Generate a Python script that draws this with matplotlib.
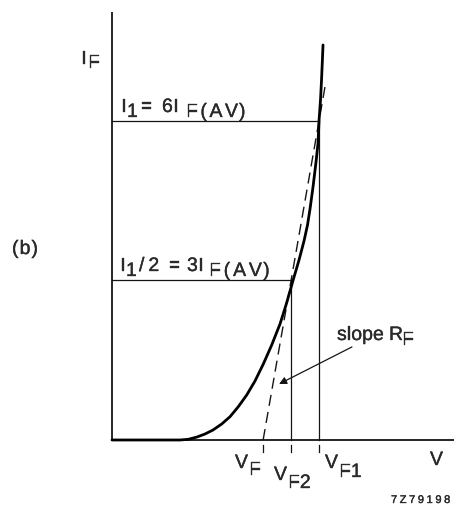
import matplotlib
matplotlib.use("Agg")
import matplotlib.pyplot as plt
from matplotlib.transforms import IdentityTransform
from matplotlib.font_manager import FontProperties
import matplotlib.patheffects as pe

# Forward characteristic of the diode (V in units of V_F1, I in units of I_F(AV))
v_curve = [0.0, 0.3285, 0.3686, 0.4106, 0.4493, 0.4879, 0.5300, 0.5700,
           0.6101, 0.6507, 0.6908, 0.7309, 0.7715, 0.8116, 0.8406, 0.8744,
           0.9034, 0.9275, 0.9444, 0.9565, 0.9710, 0.9855, 0.9952, 1.0,
           1.0072, 1.0121, 1.0159, 1.0193]
i_curve = [0.0, 0.0, 0.013, 0.056, 0.113, 0.188, 0.301, 0.438,
           0.626, 0.846, 1.110, 1.429, 1.787, 2.182, 2.539, 3.0,
           3.385, 3.743, 4.044, 4.345, 4.758, 5.229, 5.586, 6.0,
           6.395, 6.771, 7.109, 7.429]

# Operating points
i_1 = 6.0          # I1 = 6 I_F(AV)
i_half = 3.0       # I1/2 = 3 I_F(AV)
v_f2 = 0.865
v_f1 = 1.0
i_dash_top = 6.75  # upper end of the slope line

# Axis extents
v_axis_end = 1.652
i_axis_top = 8.05

W, H = 454, 505
fig = plt.figure(figsize=(W / 100, H / 100), dpi=100, facecolor="white")
ax = fig.add_axes([0, 0, 1, 1])
ax.set_xlim(-0.541, 1.652)
ax.set_ylim(-1.2225, 8.275)
ax.axis("off")

ink = "#151515"
txt = "#2a2a2a"

# Axes
ax.plot([0, 0], [0, i_axis_top], color=ink, lw=1.3, solid_capstyle="butt")
ax.plot([0, v_axis_end], [0, 0], color=ink, lw=1.3, solid_capstyle="butt")

# Construction lines
ax.plot([0, v_f1], [i_1, i_1], color=ink, lw=0.9)
ax.plot([0, v_f2], [i_half, i_half], color=ink, lw=0.9)
ax.plot([v_f1, v_f1], [0, i_1], color=ink, lw=0.9)
ax.plot([v_f2, v_f2], [0, i_half], color=ink, lw=0.9)

# Slope line through the two operating points, extended to the V axis
slope = (i_1 - i_half) / (v_f1 - v_f2)
v_f = v_f1 - i_1 / slope
v_top = v_f1 + (i_dash_top - i_1) / slope
ax.plot([v_f, v_top], [0, i_dash_top], color=ink, lw=1.0,
        dashes=(8, 4.5))

# Tick marks under the V axis
for v in (v_f, v_f2, v_f1):
    ax.plot([v, v], [-0.09, -0.23], color=ink, lw=0.9)

# Characteristic curve
ax.plot(v_curve, i_curve, color="black", lw=2.0, solid_joinstyle="round",
        solid_capstyle="round")

# Arrow pointing to the slope line
ax.annotate("", xy=(0.807, 1.053), xytext=(1.159, 1.75),
            arrowprops=dict(arrowstyle="-|>", lw=0.9, color=ink,
                            mutation_scale=11, shrinkA=0, shrinkB=0))

# Text drawing in pixel coordinates (origin top-left, y = baseline)
renderer = fig.canvas.get_renderer()
heavy = [pe.withStroke(linewidth=0.25, foreground=txt)]


def put(x, y, s, size=14, track=0.0):
    fp = FontProperties(family="Liberation Sans", size=size)
    for k, ch in enumerate(s):
        if k:
            w, _, _ = renderer.get_text_width_height_descent(s[:k], fp, ismath=False)
        else:
            w = 0
        ax.text(x + w + k * track, H - y, ch, fontproperties=fp, color=txt,
                transform=IdentityTransform(), ha="left", va="baseline",
                path_effects=heavy)


# I_F axis label
put(81, 64, "I")
put(88, 68, "F")

# I1 = 6 I_F(AV)
put(121, 112, "I")
put(127, 117, "1")
put(141, 112, "=")
put(162, 112, "6")
put(173, 112, "I")
put(186, 117, "F(AV)", track=2.5)

# I1/2 = 3 I_F(AV)
put(120, 271, "I")
put(126, 276, "1")
put(139, 271, "/2", track=4.0)
put(169, 271, "=")
put(187, 271, "3")
put(198, 271, "I")
put(209, 276, "F(AV)", track=2.8)

# (b)
put(12, 254, "(b)", track=1.0)

# slope R_F
put(337, 340, "slope")
put(389, 340, "R")
put(402, 345, "F")

# Voltage labels
put(235, 468, "V")
put(249, 475, "F")
put(274, 480, "V")
put(288, 488, "F2")
put(325, 468, "V")
put(339, 477, "F1")
put(430, 465, "V")

# Drawing reference number
put(391, 503, "7Z79198", size=8, track=2.6)

fig.savefig("out.png", dpi=100, facecolor="white")
